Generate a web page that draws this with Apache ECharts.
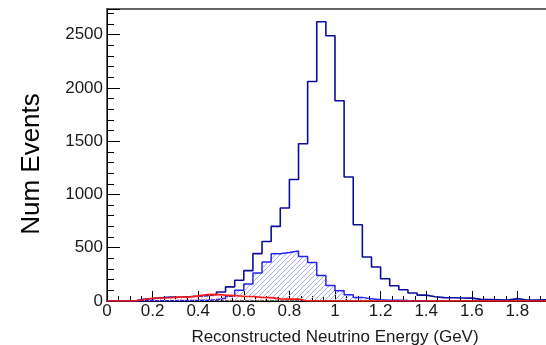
<!DOCTYPE html>
<html>
<head>
<meta charset="utf-8">
<script src="https://cdn.jsdelivr.net/npm/echarts@6/dist/echarts.min.js"></script>
<style>
html,body{margin:0;padding:0;background:#fff;}
#chart{width:546px;height:345px;}
</style>
</head>
<body>
<div id="chart"></div>
<script>
// Histogram binning: 50 bins of 0.04 GeV from 0 to 2 GeV
const binWidth = 0.04;
const xTickLabels = ['0', '0.2', '0.4', '0.6', '0.8', '1', '1.2', '1.4', '1.6', '1.8'];
const yTickLabels = ['0', '500', '1000', '1500', '2000', '2500'];

// Total (dark blue outline)
const totalCounts = [
  0, 0, 0, 15, 22, 30, 38, 35, 40, 45,
  50, 58, 85, 133, 195, 285, 445, 559, 700, 872,
  1140, 1475, 2060, 2620, 2489, 1879, 1163, 716, 413, 319,
  209, 143, 106, 75, 55, 40, 32, 30, 28, 27,
  15, 14, 12, 8, 22, 10, 8, 12, 10, 8
];
// Hatched blue component
const ccqeCounts = [
  null, null, null, 2, 2, 3, 3, 4, 5, 6,
  8, 12, 25, 45, 100, 160, 263, 366, 444, 456,
  470, 418, 362, 240, 146, 97, 59, 34, 20, 12,
  8, 6, 4, 3, 2, null, null, null, null, null,
  null, null, null, null, null, null, null, null, null, null
];
// Red component
const redCounts = [
  0, 0, 0, 12, 26, 28, 30, 36, 38, 48,
  60, 62, 55, 50, 44, 42, 34, 32, 20, 18,
  18, 0, 0, 0, 0, 0, 0, 0, 0, 0,
  0, 0, 0, 0, 0, 0, 0, 0, 0, 0,
  0, 0, 0, 0, 0, 0, 0, 0, 0, 0
];

function edge(i) { return +(i * binWidth).toFixed(4); }
function toSteps(counts) {
  let first = counts.findIndex(v => v !== null);
  let last = counts.length - 1;
  while (last >= 0 && counts[last] === null) last--;
  const pts = [[edge(first), 0]];
  for (let i = first; i <= last; i++) pts.push([edge(i), counts[i]]);
  pts.push([edge(last + 1), counts[last]]);
  pts.push([edge(last + 1), 0]);
  return pts;
}
function hatch(color) {
  const s = 5;
  const c = document.createElement('canvas');
  c.width = s; c.height = s;
  const g = c.getContext('2d');
  g.strokeStyle = color;
  g.lineWidth = 1;
  g.beginPath();
  g.moveTo(-1, s + 1); g.lineTo(s + 1, -1);
  g.moveTo(-1, 1); g.lineTo(1, -1);
  g.moveTo(s - 1, s + 1); g.lineTo(s + 1, s - 1);
  g.stroke();
  return {image: c, repeat: 'repeat'};
}

const font = 'Liberation Sans, Arial, Helvetica, sans-serif';
const chart = echarts.init(document.getElementById('chart'), null, {renderer: 'canvas'});
chart.setOption({
  animation: false,
  grid: {left: 107, top: 9, right: -17, bottom: 44, show: true, borderColor: '#666', borderWidth: 2, backgroundColor: 'transparent', containLabel: false, outerBoundsMode: 'none'},
  xAxis: {
    type: 'value', min: 0, max: 2, interval: 0.2,
    name: 'Reconstructed Neutrino Energy (GeV)', nameLocation: 'middle', nameGap: 28,
    nameTextStyle: {fontFamily: font, fontSize: 17, color: '#1a1a1a'},
    axisLine: {show: true, onZero: false, lineStyle: {color: '#000', width: 1}},
    axisTick: {show: true, inside: true, length: 10, lineStyle: {color: '#000'}},
    minorTick: {show: true, splitNumber: 4, length: 5, lineStyle: {color: '#000'}},
    splitLine: {show: false},
    axisLabel: {fontFamily: font, fontSize: 17, color: '#1a1a1a', margin: 2,
      formatter: v => { const i = Math.round(v / 0.2); return xTickLabels[i] !== undefined ? xTickLabels[i] : ''; }}
  },
  yAxis: {
    type: 'value', min: 0, max: 2740, interval: 500,
    name: 'Num Events', nameLocation: 'middle', nameGap: 62, nameRotate: 90,
    nameTextStyle: {fontFamily: font, fontSize: 26, color: '#000', padding: [0, 18, 0, 0]},
    axisLine: {show: true, lineStyle: {color: '#000', width: 1}},
    axisTick: {show: true, inside: true, length: 13, lineStyle: {color: '#000'}},
    minorTick: {show: true, splitNumber: 5, length: 7, lineStyle: {color: '#000'}},
    splitLine: {show: false},
    axisLabel: {fontFamily: font, fontSize: 17, color: '#1a1a1a', margin: 4, showMaxLabel: false,
      formatter: v => { const i = Math.round(v / 500); return (v % 500 === 0 && yTickLabels[i] !== undefined) ? yTickLabels[i] : ''; }}
  },
  series: [
    {
      name: 'hatched', type: 'line', step: 'end', data: toSteps(ccqeCounts), showSymbol: false, symbol: 'none',
      lineStyle: {color: '#2424ee', width: 1.5}, areaStyle: {color: hatch('#a9aef2'), opacity: 1}, z: 2
    },
    {
      name: 'total', type: 'line', step: 'end', data: toSteps(totalCounts), showSymbol: false, symbol: 'none',
      lineStyle: {color: '#0c0c99', width: 1.6}, z: 3
    },
    {
      name: 'red', type: 'line', step: 'end', data: toSteps(redCounts), showSymbol: false, symbol: 'none',
      lineStyle: {color: '#ff1a1a', width: 1.6}, areaStyle: {color: hatch('#f7b5b5'), opacity: 1}, z: 4
    }
  ]
});
</script>
</body>
</html>
